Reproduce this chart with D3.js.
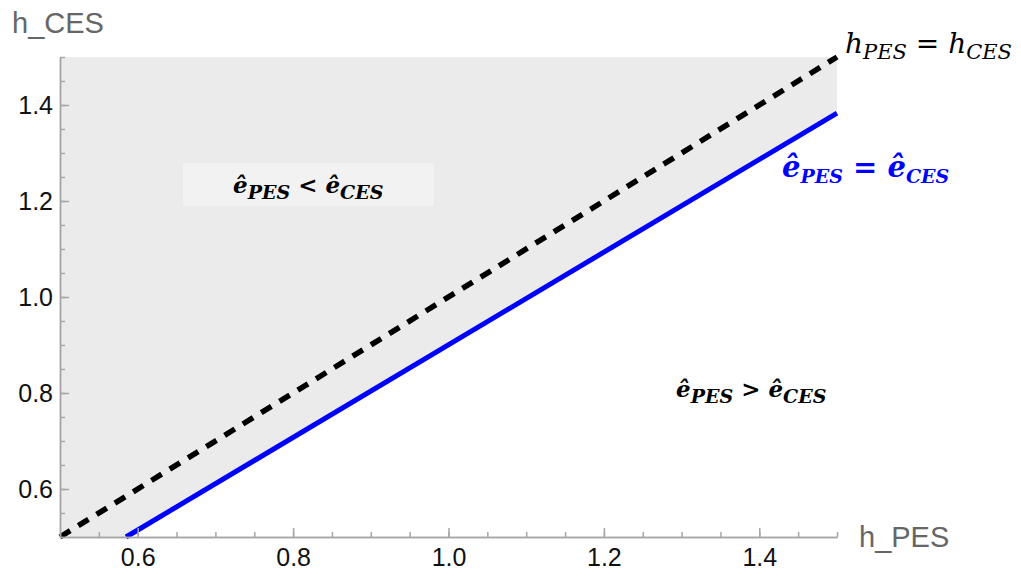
<!DOCTYPE html>
<html><head><meta charset="utf-8">
<script src="https://cdn.jsdelivr.net/npm/d3@7"></script>
<style>body{margin:0;background:#fff}svg{display:block}</style>
</head><body>
<svg id="c" width="1021" height="576"></svg>
<script>
// ---- data ----
const xDomain = [0.5, 1.5];
const yDomain = [0.5, 1.5];
const majorTicks = [0.6, 0.8, 1.0, 1.2, 1.4];
const minorTicks = [0.55,0.6,0.65,0.7,0.75,0.8,0.85,0.9,0.95,1.0,1.05,1.1,1.15,1.2,1.25,1.3,1.35,1.4,1.45,1.5];
const diagonal = [[0.5,0.5],[1.5,1.5]];          // h_PES = h_CES
const equalLine = [[0.585,0.5],[1.5,1.383]];      // ê_PES = ê_CES
const xLabel = "h_PES", yLabel = "h_CES";

const svg = d3.select("#c");
const L=60, R=837, T=57, B=537;
const x = d3.scaleLinear().domain(xDomain).range([L,R]);
const y = d3.scaleLinear().domain(yDomain).range([B,T]);

// shaded region above the equality line
const region = [[xDomain[0],yDomain[0]], ...equalLine, [xDomain[1],yDomain[1]], [xDomain[0],yDomain[1]]];
svg.append("path").attr("d", d3.line().x(d=>x(d[0])).y(d=>y(d[1]))(region)+"Z").attr("fill","#ebebeb");

// label box
svg.append("rect").attr("x",183).attr("y",163).attr("width",251).attr("height",43).attr("fill","#f2f2f2");

const line = d3.line().x(d=>x(d[0])).y(d=>y(d[1]));
svg.append("path").attr("d",line(equalLine)).attr("stroke","#0000ff").attr("stroke-width",5).attr("fill","none");
svg.append("path").attr("d",line(diagonal)).attr("stroke","#000").attr("stroke-width",5.5)
   .attr("stroke-dasharray","12,9.5").attr("fill","none");

// axes
function styleAxis(g){
  g.select(".domain").attr("stroke","#a6a6a6").attr("stroke-width",1.5);
  g.selectAll(".tick line").attr("stroke","#a6a6a6").attr("stroke-width",1.5);
  g.selectAll("text").attr("font-family","Liberation Sans, Arial, sans-serif").attr("font-size",25).attr("fill","#111");
}
const gxm = svg.append("g").attr("transform",`translate(0,${B})`)
  .call(d3.axisBottom(x).tickValues(minorTicks).tickSize(-5).tickFormat("").tickSizeOuter(0));
gxm.selectAll("text").remove();
styleAxis(gxm);
const gym = svg.append("g").attr("transform",`translate(${L},0)`)
  .call(d3.axisLeft(y).tickValues(minorTicks).tickSize(-5).tickFormat("").tickSizeOuter(0));
gym.selectAll("text").remove();
styleAxis(gym);
const gx = svg.append("g").attr("transform",`translate(0,${B})`)
  .call(d3.axisBottom(x).tickValues(majorTicks).tickSize(-9).tickPadding(11).tickFormat(d3.format(".1f")).tickSizeOuter(0));
styleAxis(gx);
const gy = svg.append("g").attr("transform",`translate(${L},0)`)
  .call(d3.axisLeft(y).tickValues(majorTicks).tickSize(-9).tickPadding(7).tickFormat(d3.format(".1f")).tickSizeOuter(0));
styleAxis(gy);

svg.append("text").attr("x",12).attr("y",33).text(yLabel)
  .attr("font-family","Liberation Sans, Arial, sans-serif").attr("font-size",29).attr("fill","#666");
svg.append("text").attr("x",859).attr("y",547).text(xLabel)
  .attr("font-family","Liberation Sans, Arial, sans-serif").attr("font-size",29).attr("fill","#666");

// math labels
function mathLabel(px, py, parts, opts){
  const t = svg.append("text").attr("x",px).attr("y",py)
    .attr("font-family","DejaVu Serif, serif").attr("font-style","italic")
    .attr("font-weight",opts.bold?"bold":"normal").attr("fill",opts.color||"#000")
    .attr("font-size",opts.size);
  let back = 0;
  parts.forEach(p=>{
    if (typeof p === "string"){
      t.append("tspan").attr("dy",-back).attr("font-style","normal").text(p); back = 0;
    } else {
      t.append("tspan").attr("dy",-back).text(p.t);
      t.append("tspan").attr("dy",opts.subDy).attr("font-size",opts.sub).text(p.sub);
      back = opts.subDy;
    }
  });
}
mathLabel(845,53,[{t:"h",sub:"PES"}," = ",{t:"h",sub:"CES"}],{size:28,sub:21,subDy:6});
mathLabel(782,177,[{t:"ê",sub:"PES"}," = ",{t:"ê",sub:"CES"}],{size:29,sub:19,subDy:6,bold:true,color:"#0000ff"});
mathLabel(233,193,[{t:"ê",sub:"PES"}," < ",{t:"ê",sub:"CES"}],{size:23,sub:19,subDy:6,bold:true});
mathLabel(676,397,[{t:"ê",sub:"PES"}," > ",{t:"ê",sub:"CES"}],{size:23,sub:19,subDy:6,bold:true});
</script>
</body></html>
